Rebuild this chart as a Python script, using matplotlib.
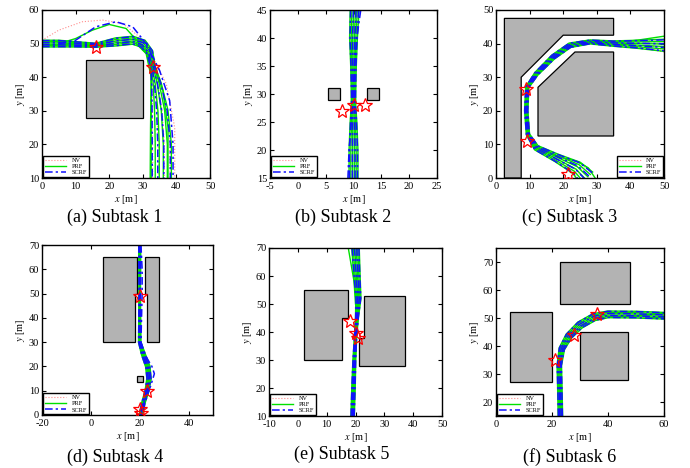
"""Trajectories of NV / PRF / SCRF over six subtasks."""

import numpy as np
import matplotlib

matplotlib.use("Agg")
import matplotlib.pyplot as plt
from matplotlib.patches import Polygon
from matplotlib.lines import Line2D

plt.rcParams["font.family"] = ["Liberation Serif", "DejaVu Serif"]
plt.rcParams["mathtext.fontset"] = "stix"
plt.rcParams["axes.unicode_minus"] = False

# ---- shared style / bundle data -------------------------------------------
METHODS = ["NV", "PRF", "SCRF"]
FRAC_NV = [-0.85, -0.3, 0.3, 0.85]
FRAC_PRF = [-1.0, -0.6, -0.2, 0.2, 0.6, 1.0]
FRAC_SCRF = [-0.9, -0.35, 0.25, 0.9]

# ---- subtask 1 --------------------------------------------------------------
S1_X = [0, 5, 10, 16, 22, 27, 30, 32, 33, 34, 35, 35.5, 35.5]
S1_Y = [50, 50, 49.8, 49.5, 50.5, 51, 50, 47.5, 43, 38, 30, 20, 10]
S1_SPREAD = [1.0, 1.0, 0.8, 0.6, 1.2, 1.2, 1.2, 1.0, 0.7, 1.5, 2.5, 3.0, 3.0]
S1_NV_OUT = [([0, 5, 12, 18, 24, 29, 33, 37, 39.5, 39.5],
              [51, 54, 56.5, 57, 56, 52, 46, 38, 25, 10])]
S1_PRF_OUT = [([5, 10, 15, 20, 25, 30, 33, 36, 37.5, 37.5],
               [50, 51.5, 54, 55.7, 54.5, 49, 44, 36, 25, 10]),
              ([28, 31, 32.5, 32.3, 32.2], [50, 47, 40, 25, 10])]
S1_SCRF_OUT = [([5, 10, 16, 22, 27, 31, 35, 38, 39, 39],
                [50, 51, 55, 56.5, 55, 50, 42, 33, 20, 10])]
S1_OBST = [[(13, 28), (13, 45), (30, 45), (30, 28)]]
S1_STARS = ([16, 33], [49, 43])

# ---- subtask 2 --------------------------------------------------------------
S2_X = [10, 10, 10, 10, 10, 10, 10, 10.2]
S2_Y = [15, 20, 25, 28, 30, 35, 40, 45]
S2_SPREAD = [0.8, 0.8, 0.6, 0.4, 0.4, 0.5, 0.7, 0.8]
S2_SCRF_OUT = [([9.0, 9.2, 9.6, 9.9, 10.2, 10.6, 11.3],
                [15, 20, 25, 30, 35, 40, 45])]
S2_OBST = [[(5.5, 29), (5.5, 31), (7.5, 31), (7.5, 29)],
           [(12.5, 29), (12.5, 31), (14.5, 31), (14.5, 29)]]
S2_STARS = ([8, 10, 12], [27, 28, 28])

# ---- subtask 3 --------------------------------------------------------------
S3_X = [27, 24, 18, 12, 9.5, 9, 9.3, 12, 17, 22, 28, 35, 42, 50]
S3_Y = [0, 3, 6, 9, 13, 20, 27, 31, 36, 39.5, 40.5, 40, 39.8, 39.5]
S3_SPREAD = [2.5, 2.0, 1.2, 0.8, 0.5, 0.5, 0.5, 0.6, 0.7, 0.7, 0.6, 0.8, 1.2, 1.8]
S3_PRF_OUT = [([12, 18, 24, 27.5, 29.5], [9, 6.5, 5, 3, 0]),
              ([28, 35, 42, 50], [40.5, 40.3, 41, 42.2])]
S3_NV_OUT = [([35, 42, 50], [40, 39, 37.5])]
S3_OBST = [[(2.5, 0), (2.5, 47.5), (35, 47.5), (35, 42.5), (20, 42.5), (7.5, 30), (7.5, 0)],
           [(12.5, 12.5), (12.5, 27), (23.5, 37.5), (35, 37.5), (35, 12.5)]]
S3_STARS = ([9, 9.3, 21.5], [26.5, 11, 1.2])

# ---- subtask 4 --------------------------------------------------------------
S4_X = [20, 20, 20, 20, 20, 21.5, 23.3, 23.8, 23, 21.5, 20.5]
S4_Y = [70, 60, 50, 40, 30, 25, 20, 15, 10, 5, 0]
S4_SPREAD = [0.4, 0.4, 0.3, 0.4, 0.5, 0.8, 0.9, 0.9, 0.8, 0.7, 0.7]
S4_SCRF_OUT = [([20.5, 21, 21, 20.5, 22, 25, 26, 24.5, 22, 20.5],
                [70, 60, 50, 30, 25, 20, 17, 12, 6, 0])]
S4_OBST = [[(5, 30), (5, 65), (19, 65), (19, 50), (18, 50), (18, 30)],
           [(22, 50), (22, 65), (28, 65), (28, 30), (23, 30), (23, 50)],
           [(19, 13.5), (19, 16), (21.5, 16), (21.5, 13.5)]]
S4_STARS = ([20, 23, 20, 20.5], [49, 10, 2.5, 0.8])

# ---- subtask 5 --------------------------------------------------------------
S5_X = [19, 19.3, 19.6, 20, 20.5, 21, 20.5, 20]
S5_Y = [10, 20, 30, 38, 45, 52, 60, 70]
S5_SPREAD = [0.6, 0.6, 0.5, 0.4, 0.5, 0.9, 1.1, 1.3]
S5_PRF_OUT = [([20, 19.5, 18.5, 17.5], [50, 58, 64, 70])]
S5_OBST = [[(2, 30), (2, 55), (17.5, 55), (17.5, 45), (15.3, 45), (15.3, 30)],
           [(21.2, 28), (21.2, 38), (23, 38), (23, 53), (37, 53), (37, 28)]]
S5_STARS = ([18, 20, 21], [44, 39.5, 38])

# ---- subtask 6 --------------------------------------------------------------
S6_X = [23, 22.8, 22.6, 23.5, 26, 30, 35, 40, 50, 60]
S6_Y = [15, 25, 33, 39, 43.5, 47.5, 50.3, 51.3, 51.2, 50.8]
S6_SPREAD = [0.8, 0.8, 0.8, 1.0, 1.2, 1.3, 1.3, 1.2, 1.2, 1.2]
S6_OBST = [[(23, 55), (23, 70), (48, 70), (48, 55)],
           [(5, 27), (5, 52), (20, 52), (20, 27)],
           [(30, 28), (30, 45), (47, 45), (47, 28)]]
S6_STARS = ([21, 28, 36], [35, 44, 51.3])

# ---- axes settings -----------------------------------------------------------
XLIMS = [(0, 50), (-5, 25), (0, 50), (-20, 50), (-10, 50), (0, 60)]
YLIMS = [(10, 60), (15, 45), (0, 50), (0, 70), (10, 70), (15, 75)]
XTICKS = [range(0, 51, 10), range(-5, 26, 5), range(0, 51, 10),
          range(-20, 41, 20), range(-10, 51, 10), range(0, 61, 20)]
YTICKS = [range(10, 61, 10), range(15, 46, 5), range(0, 51, 10),
          range(0, 71, 10), range(10, 71, 10), range(20, 71, 10)]
CAPTIONS = ["(a) Subtask 1", "(b) Subtask 2", "(c) Subtask 3",
            "(d) Subtask 4", "(e) Subtask 5", "(f) Subtask 6"]

STYLE = {
    "NV": dict(color="#ff8c8c", ls=":", lw=0.8),
    "PRF": dict(color="#00e000", ls="-", lw=1.0),
    "SCRF": dict(color="#1010ff", ls=(0, (5, 2, 1.5, 2)), lw=1.1),
}
FRACS = {"NV": FRAC_NV, "PRF": FRAC_PRF, "SCRF": FRAC_SCRF}


def offset_path(x, y, spread, frac):
    x, y, spread = map(np.asarray, (x, y, spread))
    dx, dy = np.gradient(x), np.gradient(y)
    norm = np.hypot(dx, dy)
    nx, ny = -dy / norm, dx / norm
    return x + frac * spread * nx, y + frac * spread * ny


def draw_panel(ax, base, obstacles, stars, outliers, legend_loc):
    for poly in obstacles:
        ax.add_patch(Polygon(poly, closed=True, fc="#b3b3b3", ec="black", lw=0.9, zorder=1))
    x, y, spread = base
    for m in METHODS:
        for f in FRACS[m]:
            px, py = offset_path(x, y, spread, f)
            ax.plot(px, py, zorder=2, **STYLE[m])
        for ox, oy in outliers.get(m, []):
            ax.plot(ox, oy, zorder=2, **STYLE[m])
    ax.plot(stars[0], stars[1], "*", ms=10, mfc="none", mec="red", mew=0.9, zorder=4)
    handles = [Line2D([], [], **STYLE[m]) for m in METHODS]
    leg = ax.legend(handles, METHODS, loc=legend_loc, fontsize=4.5, handlelength=3.5,
                    borderpad=0.3, labelspacing=0.15, fancybox=False, framealpha=1,
                    borderaxespad=0.1)
    leg.get_frame().set_edgecolor("black")
    leg.get_frame().set_linewidth(1.0)


fig = plt.figure(figsize=(6.9, 4.68), dpi=100)
W, H = 690, 468
boxes = [(42, 10, 168, 168), (270, 10, 167, 168), (496, 10, 168, 168),
         (42, 245, 171, 170), (269, 248, 173, 168), (496, 248, 168, 168)]
caption_xy = [(115, 217), (343, 217), (570, 217), (115, 457), (342, 454), (570, 457)]

panels = [
    ((S1_X, S1_Y, S1_SPREAD), S1_OBST, S1_STARS,
     {"NV": S1_NV_OUT, "PRF": S1_PRF_OUT, "SCRF": S1_SCRF_OUT}, "lower left"),
    ((S2_X, S2_Y, S2_SPREAD), S2_OBST, S2_STARS, {"SCRF": S2_SCRF_OUT}, "lower left"),
    ((S3_X, S3_Y, S3_SPREAD), S3_OBST, S3_STARS,
     {"PRF": S3_PRF_OUT, "NV": S3_NV_OUT}, "lower right"),
    ((S4_X, S4_Y, S4_SPREAD), S4_OBST, S4_STARS, {"SCRF": S4_SCRF_OUT}, "lower left"),
    ((S5_X, S5_Y, S5_SPREAD), S5_OBST, S5_STARS, {"PRF": S5_PRF_OUT}, "lower left"),
    ((S6_X, S6_Y, S6_SPREAD), S6_OBST, S6_STARS, {}, "lower left"),
]

for i, (base, obst, stars, outs, loc) in enumerate(panels):
    l, t, w, h = boxes[i]
    ax = fig.add_axes([l / W, 1 - (t + h) / H, w / W, h / H])
    draw_panel(ax, base, obst, stars, outs, loc)
    ax.set_xlim(*XLIMS[i])
    ax.set_ylim(*YLIMS[i])
    ax.set_xticks(list(XTICKS[i]))
    ax.set_yticks(list(YTICKS[i]))
    ax.tick_params(labelsize=7.5, direction="in", length=3, width=0.8,
                   top=True, right=True)
    ax.tick_params(axis="x", pad=3)
    ax.tick_params(axis="y", pad=2)
    for s in ax.spines.values():
        s.set_linewidth(1.0)
    ax.set_xlabel("$x$ [m]", fontsize=7.5, labelpad=1)
    ax.set_ylabel("$y$ [m]", fontsize=7.5, labelpad=1)
    cx, cy = caption_xy[i]
    fig.text(cx / W, 1 - cy / H, CAPTIONS[i], ha="center", va="center", fontsize=13)

fig.savefig("out.png", dpi=100)
